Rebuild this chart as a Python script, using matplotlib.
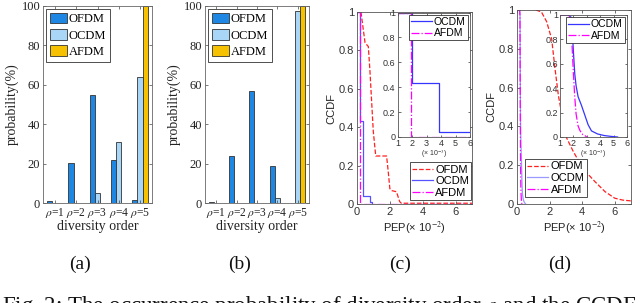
import numpy as np
import matplotlib
matplotlib.use("Agg")
import matplotlib.pyplot as plt
from matplotlib.ticker import FuncFormatter

plt.rcParams['mathtext.fontset'] = 'stix'
plt.rcParams['xtick.direction'] = 'in'
plt.rcParams['ytick.direction'] = 'in'

# ---- data ----
orders = [1, 2, 3, 4, 5]
order_labels = ['$\\rho$=1', '$\\rho$=2', '$\\rho$=3', '$\\rho$=4', '$\\rho$=5']
prob_a_ofdm = [1.0, 20.5, 55.0, 22.0, 1.5]
prob_a_ocdm = [0.0, 0.0, 5.0, 31.0, 64.0]
prob_a_afdm = [0.0, 0.0, 0.0, 0.0, 100.0]
prob_b_ofdm = [0.5, 24.0, 57.0, 19.0, 0.0]
prob_b_ocdm = [0.0, 0.0, 0.0, 2.5, 97.5]
prob_b_afdm = [0.0, 0.0, 0.0, 0.0, 100.0]

# CCDF curves, PEP in units of 1e-2
c_ofdm_x = [0.24, 0.49, 0.69, 0.79, 0.99, 1.14, 1.8, 1.9, 2.0, 2.1, 2.4, 2.6, 2.7, 7.0]
c_ofdm_y = [1.0, 0.84, 0.82, 0.69, 0.38, 0.25, 0.25, 0.17, 0.08, 0.07, 0.064, 0.012, 0.004, 0.004]
c_ocdm_x = [0.0, 0.2, 0.2, 0.385, 0.385, 0.79, 0.79, 0.93, 0.93]
c_ocdm_y = [1.0, 1.0, 0.43, 0.43, 0.043, 0.043, 0.012, 0.012, 0.0]
c_afdm_x = [0.0, 0.19, 0.19, 7.0]
c_afdm_y = [1.0, 1.0, 0.0, 0.0]

d_ofdm_x = [1.15, 1.5, 1.82, 2.13, 2.33, 2.54, 2.8, 3.05, 3.46, 4.07, 4.79, 5.4, 6.0, 6.5, 7.0]
d_ofdm_y = [1.0, 0.99, 0.94, 0.85, 0.70, 0.56, 0.44, 0.34, 0.27, 0.18, 0.115, 0.064, 0.03, 0.02, 0.016]
d_ocdm_x = [0.0, 0.16, 0.185, 0.193, 0.2, 0.21, 0.22, 0.235, 0.26, 0.285, 0.31, 0.335, 0.38, 0.43, 0.48, 0.53]
d_ocdm_y = [1.0, 1.0, 0.98, 0.85, 0.7, 0.52, 0.42, 0.33, 0.26, 0.18, 0.1, 0.05, 0.025, 0.012, 0.005, 0.0]
d_afdm_x = [0.0, 0.16, 0.18, 0.19, 0.2, 0.21, 0.22, 0.235, 0.25, 0.27, 0.29, 0.3]
d_afdm_y = [1.0, 1.0, 0.97, 0.75, 0.52, 0.33, 0.19, 0.09, 0.05, 0.02, 0.008, 0.0]

c_ofdm = '#1e86e3'
c_ocdm = '#a9d6f7'
c_afdm = '#f6c100'
edge = '#333333'

def fmt(v, pos):
    return ('%g' % v)

fig = plt.figure(figsize=(6.4, 3.03), dpi=100)
W, H = 640.0, 303.0

def box(x0, y0, x1, y1):
    return [x0 / W, 1 - y1 / H, (x1 - x0) / W, (y1 - y0) / H]

serif = ['Liberation Serif', 'DejaVu Serif']
sans = ['Liberation Sans', 'DejaVu Sans']

# ---- bar panels ----
def bar_panel(rect, d1, d2, d3):
    ax = fig.add_axes(rect)
    x = np.array(orders)
    w = 0.25
    ax.bar(x - w, d1, w, color=c_ofdm, edgecolor=edge, linewidth=0.6, label='OFDM')
    ax.bar(x, d2, w, color=c_ocdm, edgecolor=edge, linewidth=0.6, label='OCDM')
    ax.bar(x + w, d3, w, color=c_afdm, edgecolor=edge, linewidth=0.6, label='AFDM')
    ax.set_xlim(0.44, 5.56)
    ax.set_ylim(0, 100)
    ax.set_xticks(orders)
    ax.set_xticklabels(order_labels, family=serif, fontsize=8.3)
    ax.set_yticks([0, 20, 40, 60, 80, 100])
    ax.set_yticklabels(['0', '20', '40', '60', '80', '100'], family=serif, fontsize=9)
    ax.tick_params(length=2.5, width=0.5, top=True, right=True, pad=2, colors='#444444')
    for lab in ax.get_xticklabels() + ax.get_yticklabels():
        lab.set_color('#222222')
    ax.set_xlabel('diversity order', family=serif, fontsize=10, labelpad=0, color='#222222')
    ax.set_ylabel('probability(%)', family=serif, fontsize=10, labelpad=2, color='#222222')
    for s in ax.spines.values():
        s.set_color('#666666')
        s.set_linewidth(0.6)
    leg = ax.legend(loc='upper left', prop={'family': serif, 'size': 9}, handlelength=1.4,
                    handleheight=0.9, labelspacing=0.3, borderpad=0.3, handletextpad=0.1,
                    borderaxespad=0.25, fancybox=False, framealpha=1, edgecolor='#333333')
    leg.get_frame().set_linewidth(0.6)
    return ax

bar_panel(box(43, 6, 152, 203), prob_a_ofdm, prob_a_ocdm, prob_a_afdm)
bar_panel(box(205, 6, 309, 203), prob_b_ofdm, prob_b_ocdm, prob_b_afdm)

# ---- CCDF panels ----
def style_ax(ax, fs, tl=2.5):
    ax.tick_params(length=tl, width=0.5, top=True, right=True, pad=2, labelsize=fs, colors='#333333')
    for lab in ax.get_xticklabels() + ax.get_yticklabels():
        lab.set_family(sans)
    for s in ax.spines.values():
        s.set_color('#555555')
        s.set_linewidth(0.6)
    ax.yaxis.set_major_formatter(FuncFormatter(fmt))
    ax.xaxis.set_major_formatter(FuncFormatter(fmt))

def ccdf_panel(rect, inrect, ofx, ofy, ocx, ocy, afx, afy, legloc, legpos, main_oc_alpha):
    ax = fig.add_axes(rect)
    ax.plot(ofx, ofy, '--', color='#ff2020', lw=0.9, label='OFDM')
    ax.plot(ocx, ocy, '-', color='#3535ff', lw=0.9, alpha=main_oc_alpha, label='OCDM')
    ax.plot(afx, afy, '-.', color='#ff00ff', lw=0.9, label='AFDM')
    ax.set_xlim(0, 7)
    ax.set_ylim(0, 1)
    ax.set_xticks([0, 2, 4, 6])
    ax.set_yticks([0, 0.2, 0.4, 0.6, 0.8, 1.0])
    style_ax(ax, 8)
    ax.set_xlabel('PEP(\u00d7 10$^{-2}$)', family=sans, fontsize=8, labelpad=2, color='#222222')
    ax.set_ylabel('CCDF', family=sans, fontsize=8, labelpad=2, color='#222222')
    leg = ax.legend(loc=legloc, bbox_to_anchor=legpos, prop={'family': sans, 'size': 8},
                    handlelength=1.9, labelspacing=0.15, borderpad=0.2, handletextpad=0.2,
                    borderaxespad=0, fancybox=False, framealpha=1, edgecolor='#333333')
    leg.get_frame().set_linewidth(0.6)

    ins = fig.add_axes(inrect)
    ins.plot(np.array(ocx) * 10, ocy, '-', color='#3535ff', lw=0.9, label='OCDM')
    ins.plot(np.array(afx) * 10, afy, '-.', color='#ff00ff', lw=0.9, label='AFDM')
    ins.set_xlim(1, 6)
    ins.set_ylim(0, 1)
    ins.set_xticks([1, 2, 3, 4, 5, 6])
    ins.set_yticks([0, 0.2, 0.4, 0.6, 0.8, 1.0])
    style_ax(ins, 6.5, tl=1.8)
    ins.tick_params(pad=1.5)
    ins.set_xlabel('(\u00d7 10$^{-3}$)', family=sans, fontsize=5, labelpad=0.5, color='#333333')
    leg = ins.legend(loc='upper right', prop={'family': sans, 'size': 7.5}, handlelength=2.0,
                     labelspacing=0.15, borderpad=0.2, handletextpad=0.2,
                     borderaxespad=0.2, fancybox=False, framealpha=1, edgecolor='#333333')
    leg.get_frame().set_linewidth(0.6)

ccdf_panel(box(357, 12, 472, 204), box(397.5, 12.5, 470, 137),
           c_ofdm_x, c_ofdm_y, c_ocdm_x, c_ocdm_y, c_afdm_x, c_afdm_y,
           'lower right', (0.995, 0.02), 0.85)
ccdf_panel(box(517, 10, 631, 204), box(560, 15, 627, 137),
           d_ofdm_x, d_ofdm_y, d_ocdm_x, d_ocdm_y, d_afdm_x, d_afdm_y,
           'lower left', (8 / 114, 7 / 194), 0.5)

# ---- sub-labels and caption ----
for i, t in enumerate(['(a)', '(b)', '(c)', '(d)']):
    fig.text(0.125 + 0.25 * i, 1 - 264 / H, t, ha='center', va='center',
             family=serif, fontsize=14, color='#111111')

fig.text(2 / W, 1 - 294 / H, 'Fig. 2: The occurrence probability of diversity order $\\rho$ and the CCDF',
         ha='left', va='top', family=serif, fontsize=16.5, color='#111111')

fig.savefig('out.png', dpi=100)
